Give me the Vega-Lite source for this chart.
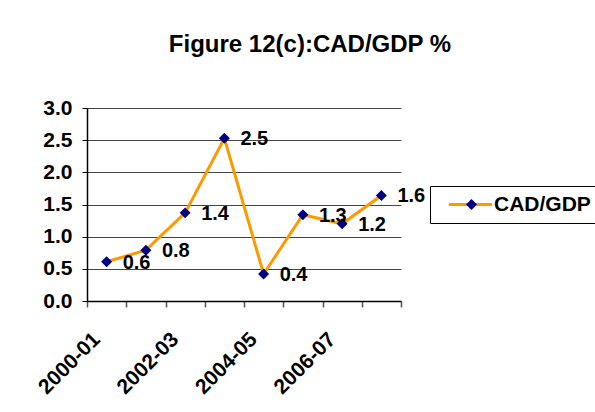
{
  "$schema": "https://vega.github.io/schema/vega-lite/v6.json",
  "width": 314,
  "height": 193,
  "autosize": {"type": "none"},
  "padding": {"left": 87, "top": 108, "right": 194, "bottom": 111},
  "background": "white",
  "title": {
    "text": "Figure 12(c):CAD/GDP %",
    "font": "Liberation Sans",
    "fontSize": 24,
    "fontWeight": "bold",
    "color": "#000000",
    "anchor": "middle",
    "frame": "group",
    "dx": 66,
    "offset": 40
  },
  "data": {
    "values": [
      {"period": "2000-01", "value": 0.61},
      {"period": "2001-02", "value": 0.79},
      {"period": "2002-03", "value": 1.37},
      {"period": "2003-04", "value": 2.53},
      {"period": "2004-05", "value": 0.42},
      {"period": "2005-06", "value": 1.34},
      {"period": "2006-07", "value": 1.2},
      {"period": "2007-08", "value": 1.64}
    ]
  },
  "encoding": {
    "x": {
      "field": "period",
      "type": "ordinal",
      "sort": null,
      "scale": {"type": "band", "paddingInner": 0, "paddingOuter": 0},
      "axis": {
        "title": null,
        "tickBand": "extent",
        "grid": false,
        "labelAngle": -45,
        "labelAlign": "right",
        "labelBaseline": "middle",
        "labelPadding": 29,
        "labelOffset": -10,
        "labelExpr": "indexof(['2000-01','2002-03','2004-05','2006-07'], datum.value) >= 0 ? datum.value : ''",
        "labelFont": "Liberation Sans",
        "labelFontSize": 21,
        "labelFontWeight": "bold",
        "labelColor": "#000000",
        "domainColor": "#000000",
        "domainWidth": 1.5,
        "tickColor": "#555555",
        "tickSize": 6,
        "tickWidth": 1.5
      }
    },
    "y": {
      "field": "value",
      "type": "quantitative",
      "scale": {"domain": [0, 3], "nice": false, "zero": true},
      "axis": {
        "title": null,
        "values": [0, 0.5, 1, 1.5, 2, 2.5, 3],
        "format": ".1f",
        "grid": true,
        "gridColor": "#444444",
        "gridWidth": 1,
        "labelFont": "Liberation Sans",
        "labelFontSize": 21,
        "labelFontWeight": "bold",
        "labelColor": "#000000",
        "labelPadding": 10,
        "domainColor": "#000000",
        "domainWidth": 1.5,
        "tickColor": "#000000",
        "tickSize": 5
      }
    }
  },
  "layer": [
    {
      "mark": {"type": "line", "strokeWidth": 3},
      "encoding": {
        "stroke": {
          "datum": "CAD/GDP",
          "scale": {"range": ["#FF9900"]},
          "legend": {
            "title": null,
            "orient": "none",
            "legendX": 343,
            "legendY": 78,
            "zindex": 1,
            "symbolType": "M-4,0H4",
            "symbolSize": 116,
            "symbolStrokeWidth": 3,
            "symbolOffset": 22,
            "labelOffset": 13,
            "labelFont": "Liberation Sans",
            "labelFontSize": 21,
            "labelFontWeight": "bold",
            "labelColor": "#000000",
            "labelLimit": 300,
            "strokeColor": "#000000",
            "padding": 8
          }
        }
      }
    },
    {
      "mark": {"type": "point", "shape": "diamond", "filled": true, "size": 120, "strokeWidth": 0, "opacity": 1},
      "encoding": {
        "fill": {
          "datum": "CAD/GDP %",
          "scale": {"range": ["#000080"]},
          "legend": {
            "title": null,
            "orient": "none",
            "legendX": 366,
            "legendY": 78,
            "zindex": 2,
            "symbolType": "diamond",
            "symbolSize": 120,
            "symbolStrokeWidth": 0,
            "labelExpr": "''",
            "labelFont": "Liberation Sans",
            "labelFontSize": 21,
            "labelFontWeight": "bold",
            "padding": 8
          }
        }
      }
    },
    {
      "mark": {
        "type": "text",
        "align": "left",
        "baseline": "middle",
        "dx": 16,
        "dy": 1,
        "font": "Liberation Sans",
        "fontSize": 20,
        "fontWeight": "bold",
        "color": "#000000"
      },
      "encoding": {
        "text": {"field": "value", "type": "quantitative", "format": ".1f"}
      }
    }
  ],
  "config": {
    "view": {"stroke": null},
    "font": "Liberation Sans"
  }
}
